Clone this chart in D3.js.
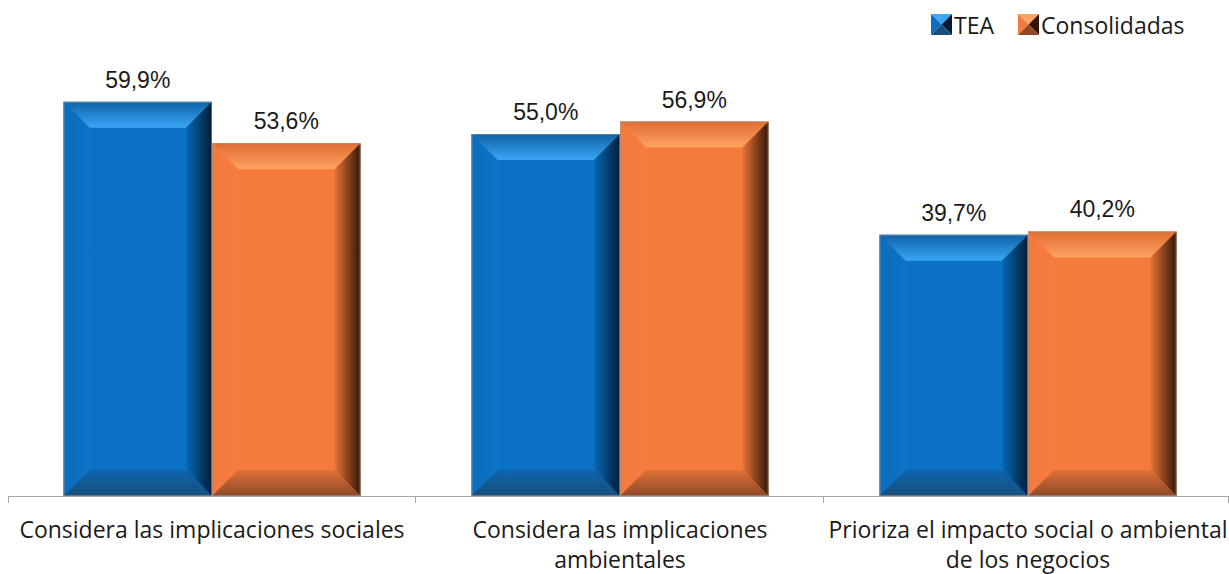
<!DOCTYPE html>
<html><head><meta charset="utf-8">
<script src="https://cdn.jsdelivr.net/npm/d3@7"></script>
<style>body{margin:0;background:#fff}svg{display:block}</style>
</head><body>
<script>
const categories = [["Considera las implicaciones sociales"],["Considera las implicaciones","ambientales"],["Prioriza el impacto social o ambiental","de los negocios"]];
const seriesNames = ["TEA","Consolidadas"];
const tea = [59.9, 55.0, 39.7];
const consolidadas = [53.6, 56.9, 40.2];
const valueLabels = [["59,9%","55,0%","39,7%"],["53,6%","56,9%","40,2%"]];

const W=1229,H=574;
const svg=d3.select("body").append("svg").attr("width",W).attr("height",H);
const x0=d3.scaleBand().domain(d3.range(3)).range([8,1232]).paddingInner(0).paddingOuter(0);
const x1=d3.scaleBand().domain([0,1]).range([0,x0.bandwidth()]).paddingInner(0).paddingOuter(0.374);
const y=d3.scaleLinear().domain([0,70]).range([496,35.4]);

const pal=[
 {body:"#0A73C6",top0:"#0F63A8",top1:"#3AA6F4",left0:"#0B6CBD",left1:"#0D74C6",right0:"#0A68B4",right1:"#021C36",bot0:"#0C66AE",bot1:"#184E7C"},
 {body:"#F57B3D",top0:"#E06C32",top1:"#FFA462",left0:"#F27A3C",left1:"#F57C3E",right0:"#E8733A",right1:"#341606",bot0:"#E07238",bot1:"#8E4826"}
];
const defs=svg.append("defs");
pal.forEach((p,i)=>{
  const g=(id,x1_,y1_,x2_,y2_,c0,c1)=>{const lg=defs.append("linearGradient").attr("id",id+i).attr("x1",x1_).attr("y1",y1_).attr("x2",x2_).attr("y2",y2_);
    lg.append("stop").attr("offset","0%").attr("stop-color",c0);lg.append("stop").attr("offset","100%").attr("stop-color",c1);};
  g("top",0,0,0,1,p.top0,p.top1);
  g("left",0,0,1,0,p.left0,p.left1);
  g("right",0,0,1,0,p.right0,p.right1);
  g("bot",0,0,0,1,p.bot0,p.bot1);
});

const data=[tea,consolidadas];
const bev=26;
data.forEach((vals,s)=>{
  vals.forEach((v,c)=>{
    const bx=x0(c)+x1(s), bw=x1.bandwidth(), by=y(v), bh=496-y(v);
    const gg=svg.append("g");
    const X0=bx,X1=bx+bw,Y0=by,Y1=496;
    gg.append("rect").attr("x",X0).attr("y",Y0).attr("width",bw).attr("height",bh).attr("fill",pal[s].body);
    const poly=(pts,fill)=>gg.append("polygon").attr("points",pts.map(p=>p.join(",")).join(" ")).attr("fill",fill);
    poly([[X0,Y0],[X1,Y0],[X1-bev,Y0+bev],[X0+bev,Y0+bev]],`url(#top${s})`);
    poly([[X0,Y0],[X0+bev,Y0+bev],[X0+bev,Y1-bev],[X0,Y1]],`url(#left${s})`);
    poly([[X1,Y0],[X1,Y1],[X1-bev,Y1-bev],[X1-bev,Y0+bev]],`url(#right${s})`);
    poly([[X0,Y1],[X0+bev,Y1-bev],[X1-bev,Y1-bev],[X1,Y1]],`url(#bot${s})`);
    gg.append("rect").attr("x",X0+0.5).attr("y",Y0+0.5).attr("width",bw-1).attr("height",bh-1).attr("fill","none").attr("stroke","#9a9a9a").attr("stroke-opacity",0.6);
    svg.append("text").attr("x",bx+bw/2).attr("y",by-14).attr("text-anchor","middle")
      .attr("font-family","Liberation Sans, Arial, sans-serif").attr("font-size",23).attr("fill","#1a1a1a").text(valueLabels[s][c]);
  });
});

// axis
svg.append("line").attr("x1",8).attr("x2",1229).attr("y1",496.5).attr("y2",496.5).attr("stroke","#a6a6a6").attr("stroke-width",1);
[0,1,2,3].forEach(i=>{const xx=Math.round(i<3?x0(i):1229)-0.5+ (i===0?1:0);
  svg.append("line").attr("x1",xx).attr("x2",xx).attr("y1",496).attr("y2",503).attr("stroke","#a6a6a6");});

categories.forEach((lines,c)=>{
  const t=svg.append("text").attr("text-anchor","middle").attr("font-family","Open Sans, Noto Sans, sans-serif").attr("font-size",23).attr("fill","#1a1a1a");
  lines.forEach((l,k)=>t.append("tspan").attr("x",x0(c)+x0.bandwidth()/2).attr("y",538+k*30).text(l));
});

// legend
const leg=[{x:931,t:"TEA"},{x:1018,t:"Consolidadas"}];
leg.forEach((L,s)=>{
  const X0=L.x,Y0=14,S=21,X1=X0+S,Y1=Y0+S,cx=X0+S/2,cy=Y0+S/2;
  const tri=(pts,f)=>svg.append("polygon").attr("points",pts.map(p=>p.join(",")).join(" ")).attr("fill",f);
  const p=pal[s];
  tri([[X0,Y0],[X1,Y0],[cx,cy]],p.top1);
  tri([[X0,Y0],[cx,cy],[X0,Y1]],p.left0);
  tri([[X1,Y0],[X1,Y1],[cx,cy]],p.right1);
  tri([[X0,Y1],[cx,cy],[X1,Y1]],p.bot1);
  svg.append("text").attr("x",X1+2).attr("y",Y1-1).attr("font-family","Open Sans, Noto Sans, sans-serif").attr("font-size",23).attr("fill","#1a1a1a").text(L.t);
});
</script>
</body></html>
